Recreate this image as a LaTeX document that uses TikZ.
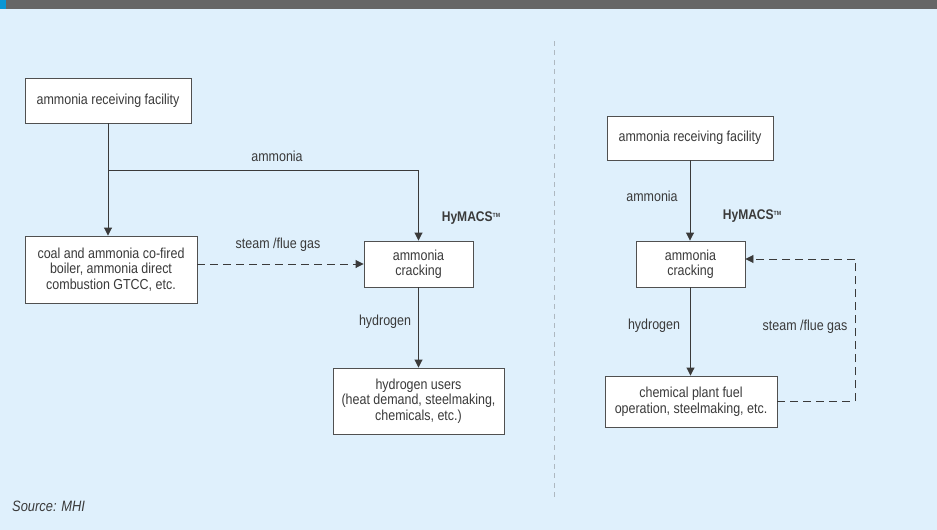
\documentclass[tikz,border=0pt]{standalone}
\usepackage{fontspec}
\setmainfont[FakeStretch=0.86]{Liberation Sans}
\usetikzlibrary{arrows.meta}
\definecolor{bg}{HTML}{DFF0FC}
\definecolor{bannergray}{HTML}{666666}
\definecolor{bannerblue}{HTML}{0A96D4}
\definecolor{txt}{HTML}{3A3A3A}
\definecolor{boxline}{HTML}{505050}
\definecolor{divider}{HTML}{AEB8C0}
\tikzset{
  box/.style={draw=boxline, fill=white, line width=0.9pt, align=center, inner sep=0pt, text=txt,
    font=\fontsize{14.5}{15.5}\selectfont},
  lbl/.style={text=txt, font=\fontsize{14.5}{15.5}\selectfont, inner sep=0pt},
  hym/.style={text=txt, inner sep=0pt, font=\fontsize{14}{15}\selectfont\bfseries},
  arr/.style={draw=txt, line width=0.9pt, -{Triangle[width=8pt,length=8pt]}},
  dasharr/.style={draw=txt, line width=0.9pt, dash pattern=on 8pt off 5pt, -{Triangle[width=8pt,length=8pt]}},
  dashline/.style={draw=txt, line width=0.9pt, dash pattern=on 8pt off 5pt},
}
\begin{document}
\begin{tikzpicture}[x=1pt,y=-1pt]
\useasboundingbox (0,0) rectangle (937,530);
\fill[bg] (0,0) rectangle (937,530);
\fill[bannergray] (0,0) rectangle (937,8.7);
\fill[bannerblue] (0,0) rectangle (5.7,8.7);
% divider
\draw[divider, line width=1pt, dash pattern=on 5pt off 4.4pt] (554,41) -- (554,498);

% left side
\node[box, minimum width=166pt, minimum height=45pt] (A) at (108,100.5) {ammonia receiving facility};
\node[box, minimum width=172pt, minimum height=67pt] (B) at (111,269.5) {coal and ammonia co-fired\\boiler, ammonia direct\\combustion GTCC, etc.};
\node[box, minimum width=109pt, minimum height=46pt] (C) at (418.5,264) {ammonia\\cracking};
\node[box, minimum width=171pt, minimum height=66pt] (D) at (418.5,401) {hydrogen users\\(heat demand, steelmaking,\\chemicals, etc.)};
\coordinate (j) at (108,170);
\draw[arr] (A.south) -- (A.south |- B.north);
\draw[arr] (j) -| (C.north);
\draw[dasharr] (B.east |- C.west) -- (C.west);
\draw[arr] (C.south) -- (D.north);
\node[lbl] (l1) at (277,156) {ammonia};
\node[lbl] (l2) at (278,245) {steam /flue gas};
\node[lbl] (l3) at (385,322) {hydrogen};
\node[hym] (h1) at (471,218) {HyMACS\raisebox{0.55ex}{\fontsize{6}{6}\selectfont TM}};

% right side
\node[box, minimum width=166pt, minimum height=44pt] (E) at (690,138) {ammonia receiving facility};
\node[box, minimum width=109pt, minimum height=46pt] (F) at (690.5,264) {ammonia\\cracking};
\node[box, minimum width=172pt, minimum height=51pt] (G) at (691,401.5) {chemical plant fuel\\operation, steelmaking, etc.};
\draw[arr] (E.south) -- (E.south |- F.north);
\draw[arr] (F.south) -- (F.south |- G.north);
\coordinate (k) at (855,259);
\draw[dashline] (G.east) -| (k);
\draw[dasharr] (k) -- (k -| F.east);
\node[lbl] (r1) at (652,196) {ammonia};
\node[lbl] (r2) at (654,326) {hydrogen};
\node[lbl] (r3) at (805,327) {steam /flue gas};
\node[hym] (h2) at (752,216) {HyMACS\raisebox{0.55ex}{\fontsize{6}{6}\selectfont TM}};

% source
\node[lbl, anchor=west, font=\fontsize{15}{16}\selectfont\itshape] (src) at (12,506) {Source: MHI};
\end{tikzpicture}
\end{document}
